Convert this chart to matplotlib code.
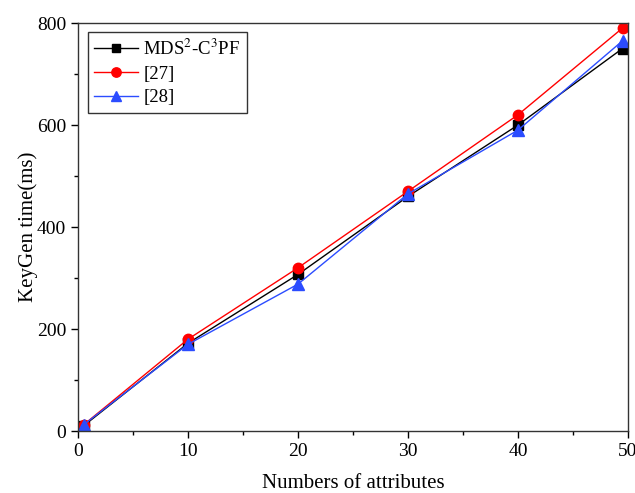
import matplotlib
matplotlib.use("Agg")
import matplotlib.pyplot as plt
from matplotlib.ticker import MultipleLocator

plt.rcParams["font.family"] = ["Liberation Serif", "DejaVu Serif"]
plt.rcParams["mathtext.fontset"] = "stix"

attrs = [0.5, 10, 20, 30, 40, 49.5]
mds = [10, 172, 307, 460, 600, 750]
ref27 = [12, 180, 320, 470, 620, 790]
ref28 = [12, 170, 288, 465, 590, 765]

fig = plt.figure(figsize=(6.35, 4.93), dpi=100)
ax = fig.add_axes([78 / 635, 62 / 493, 550 / 635, 408 / 493])

ax.plot(attrs, mds, color="black", lw=1, marker="s", ms=6.5, label=r"MDS$^2$-C$^3$PF")
ax.plot(attrs, ref27, color="red", lw=1, marker="o", ms=7.5, label="[27]")
ax.plot(attrs, ref28, color="#2b4cff", lw=1, marker="^", ms=8, label="[28]")

ax.set_xlim(0, 50)
ax.set_ylim(0, 800)
ax.xaxis.set_major_locator(MultipleLocator(10))
ax.xaxis.set_minor_locator(MultipleLocator(5))
ax.yaxis.set_major_locator(MultipleLocator(200))
ax.yaxis.set_minor_locator(MultipleLocator(100))
ax.tick_params(which="both", direction="out", top=False, right=False, labelsize=14)
ax.tick_params(which="major", length=5, width=1)
ax.tick_params(which="minor", length=3, width=1)
for s in ax.spines.values():
    s.set_color("#333333")
    s.set_linewidth(1)

ax.set_xlabel("Numbers of attributes", fontsize=15, labelpad=10)
ax.set_ylabel("KeyGen time(ms)", fontsize=15)
ax.yaxis.set_label_coords(-0.073, 0.5)

leg = ax.legend(loc="upper left", bbox_to_anchor=(0.018, 0.978), borderaxespad=0,
                fontsize=13.5, fancybox=False, edgecolor="#333333", framealpha=1,
                handlelength=2.3, borderpad=0.35, labelspacing=0.35, handletextpad=0.3,
                markerscale=0.9)
leg.get_frame().set_linewidth(1)

fig.savefig("out.png", dpi=100)
